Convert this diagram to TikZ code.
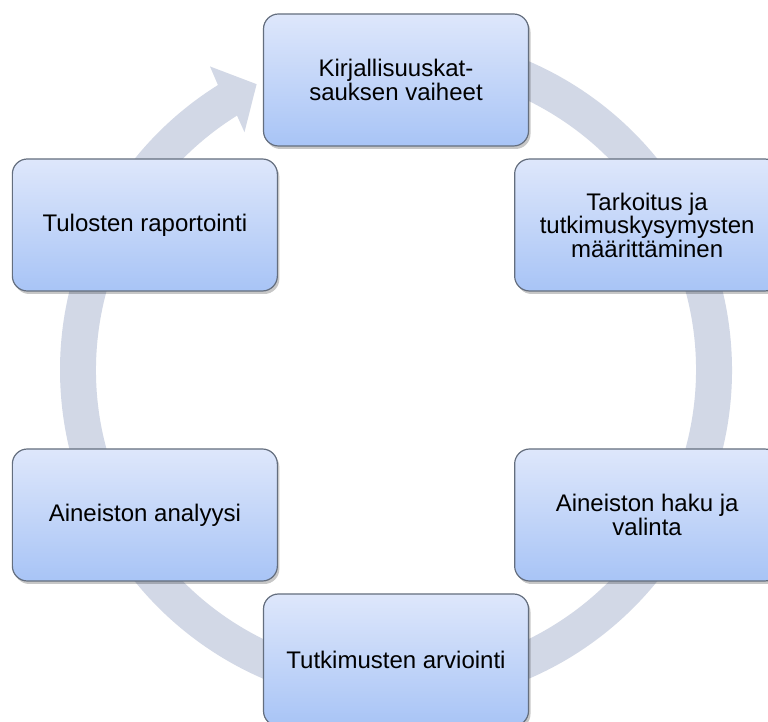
\documentclass[tikz,border=0pt]{standalone}
\usepackage{fontspec}
\setmainfont{Liberation Sans}
\usetikzlibrary{calc,shadows}
\definecolor{bandc}{RGB}{210,216,230}
\definecolor{boxtop}{RGB}{222,231,251}
\definecolor{boxbot}{RGB}{168,196,246}
\definecolor{boxline}{RGB}{100,110,126}
\begin{document}
\begin{tikzpicture}[x=1pt,y=1pt,
  stagebox/.style={draw=boxline, line width=1.2pt, rounded corners=15pt,
    top color=boxtop, bottom color=boxbot,
    minimum width=265pt, minimum height=132pt, inner sep=0pt,
    align=center, text=black, font=\fontsize{24}{23.5}\selectfont,
    drop shadow={shadow xshift=2pt,shadow yshift=-3pt,opacity=0.22,fill=black}}]
\useasboundingbox (0,0) rectangle (768,722);
\clip (0,0) rectangle (768,722);
\fill[white] (0,0) rectangle (768,722);
\coordinate (C) at (396,352);
% circular arrow band
\fill[bandc] ($(C)+(95:336)$) arc[start angle=95,end angle=-238,radius=336]
  -- ($(C)+(121.5:356)$) -- ($(C)+(116:318)$) -- ($(C)+(122.5:282)$)
  -- ($(C)+(122:300)$) arc[start angle=-238,end angle=95,radius=300] -- cycle;
% stages
\node[stagebox] (s1) at ($(C)+(90:290)$) {Kirjallisuuskat-\\sauksen vaiheet};
\node[stagebox] (s2) at ($(C)+(30:290)$) {Tarkoitus ja\\tutkimuskysymysten\\määrittäminen};
\node[stagebox] (s3) at ($(C)+(-30:290)$) {Aineiston haku ja\\valinta};
\node[stagebox] (s4) at ($(C)+(-90:290)$) {Tutkimusten arviointi};
\node[stagebox] (s5) at ($(C)+(-150:290)$) {Aineiston analyysi};
\node[stagebox] (s6) at ($(C)+(150:290)$) {Tulosten raportointi};
\end{tikzpicture}
\end{document}
